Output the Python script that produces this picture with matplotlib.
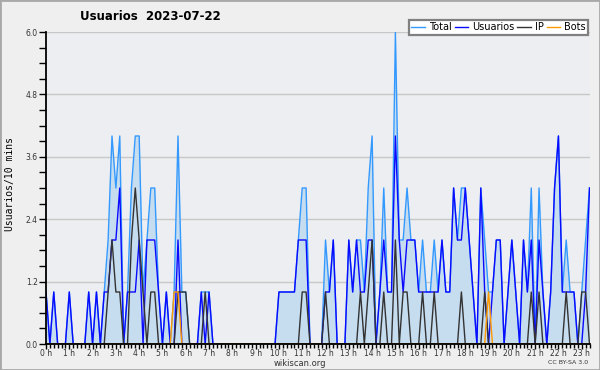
#!/usr/bin/env python3

#This script plots wikiscan users per 10 minutes for one day

#Import necessary libraries
import numpy as np
import matplotlib
matplotlib.use("Agg")
import matplotlib.pyplot as plt
from matplotlib.ticker import MultipleLocator, FixedLocator
from matplotlib.lines import Line2D
from matplotlib.patches import Rectangle

###########################
########## DATA ###########
###########################

#Day shown in the title
day = "2023-07-22"

#One value per 10 minute slot (one row per hour)
total = [
    1, 0, 1, 0, 0, 0,
    1, 0, 0, 0, 0, 1,
    0, 1, 0, 1, 2, 4,
    3, 4, 0, 1, 3, 4,
    4, 1, 2, 3, 3, 1,
    0, 1, 0, 1, 4, 1,
    1, 0, 0, 0, 1, 1,
    1, 0, 0, 0, 0, 0,
    0, 0, 0, 0, 0, 0,
    0, 0, 0, 0, 0, 0,
    1, 1, 1, 1, 1, 2,
    3, 3, 0, 0, 0, 0,
    2, 1, 2, 0, 0, 0,
    2, 1, 2, 2, 1, 3,
    4, 0, 1, 3, 1, 1,
    6, 2, 2, 3, 2, 2,
    1, 2, 1, 1, 2, 1,
    2, 1, 1, 3, 2, 3,
    3, 2, 1, 0, 3, 2,
    1, 1, 2, 2, 0, 1,
    2, 1, 0, 2, 1, 3,
    0, 3, 1, 0, 1, 3,
    4, 1, 2, 1, 1, 0,
    1, 2, 3,
]

usuarios = [
    1, 0, 1, 0, 0, 0,
    1, 0, 0, 0, 0, 1,
    0, 1, 0, 1, 1, 2,
    2, 3, 0, 1, 1, 1,
    2, 0, 2, 2, 2, 1,
    0, 1, 0, 0, 2, 0,
    0, 0, 0, 0, 1, 0,
    1, 0, 0, 0, 0, 0,
    0, 0, 0, 0, 0, 0,
    0, 0, 0, 0, 0, 0,
    1, 1, 1, 1, 1, 2,
    2, 2, 0, 0, 0, 0,
    1, 1, 2, 0, 0, 0,
    2, 1, 2, 1, 1, 2,
    2, 0, 1, 2, 1, 1,
    4, 2, 1, 2, 2, 2,
    1, 1, 1, 1, 1, 1,
    2, 1, 1, 3, 2, 2,
    3, 2, 1, 0, 3, 1,
    0, 1, 2, 2, 0, 1,
    2, 1, 0, 2, 1, 2,
    0, 2, 1, 0, 1, 3,
    4, 1, 1, 1, 1, 0,
    0, 1, 3,
]

ip = [
    0, 0, 0, 0, 0, 0,
    0, 0, 0, 0, 0, 0,
    0, 0, 0, 0, 1, 2,
    1, 1, 0, 0, 2, 3,
    2, 1, 0, 1, 1, 0,
    0, 0, 0, 0, 1, 1,
    1, 0, 0, 0, 0, 1,
    0, 0, 0, 0, 0, 0,
    0, 0, 0, 0, 0, 0,
    0, 0, 0, 0, 0, 0,
    0, 0, 0, 0, 0, 0,
    1, 1, 0, 0, 0, 0,
    1, 0, 0, 0, 0, 0,
    0, 0, 0, 1, 0, 1,
    2, 0, 0, 1, 0, 0,
    2, 0, 1, 1, 0, 0,
    0, 1, 0, 0, 1, 0,
    0, 0, 0, 0, 0, 1,
    0, 0, 0, 0, 0, 1,
    0, 0, 0, 0, 0, 0,
    0, 0, 0, 0, 0, 1,
    0, 1, 0, 0, 0, 0,
    0, 0, 1, 0, 0, 0,
    1, 1, 0,
]

bots = [
    0, 0, 0, 0, 0, 0,
    0, 0, 0, 0, 0, 0,
    0, 0, 0, 0, 0, 0,
    0, 0, 0, 0, 0, 0,
    0, 0, 0, 0, 0, 0,
    0, 0, 0, 1, 1, 0,
    0, 0, 0, 0, 0, 0,
    0, 0, 0, 0, 0, 0,
    0, 0, 0, 0, 0, 0,
    0, 0, 0, 0, 0, 0,
    0, 0, 0, 0, 0, 0,
    0, 0, 0, 0, 0, 0,
    0, 0, 0, 0, 0, 0,
    0, 0, 0, 0, 0, 0,
    0, 0, 0, 0, 0, 0,
    0, 0, 0, 0, 0, 0,
    0, 0, 0, 0, 0, 0,
    0, 0, 0, 0, 0, 0,
    0, 0, 0, 0, 0, 0,
    1, 0, 0, 0, 0, 0,
    0, 0, 0, 0, 0, 0,
    0, 0, 0, 0, 0, 0,
    0, 0, 0, 0, 0, 0,
    0, 0, 0,
]

#Axis labels
hours = list(range(24))
hour_labels = [f"{h} h" for h in hours]
y_ticks = [0.0, 1.2, 2.4, 3.6, 4.8, 6.0]

###########################
########## STYLE ##########
###########################

c_total = "#3399ff"
c_fill = "#c6dcef"
c_users = "#0a0aff"
c_ip = "#333333"
c_bots = "#ff9900"

###########################
########### PLOT ##########
###########################

#Slot index (10 minutes each)
slots = np.arange(len(total))

fig = plt.figure(figsize=(6, 3.7), dpi=100, facecolor="#efefef")
ax = fig.add_axes([46 / 600, 26 / 370, 543.5 / 600, 312 / 370])
ax.set_facecolor("#eceef1")

#Area under total, then the four series
ax.fill_between(slots, total, color=c_fill, lw=0, zorder=1)
ax.plot(slots, total, color=c_total, lw=1.0, zorder=2)
ax.plot(slots, usuarios, color=c_users, lw=1.0, zorder=2)
ax.plot(slots, ip, color=c_ip, lw=1.0, zorder=2)
ax.plot(slots, bots, color=c_bots, lw=1.0, zorder=2)

#Limits and grid
ax.set_xlim(0, len(total) - 1)
ax.set_ylim(0, 6)
ax.yaxis.grid(True, color="#c8c8c8", lw=1)
ax.set_axisbelow(True)

#Y axis ticks
ax.set_yticks(y_ticks)
ax.set_yticklabels([f"{v:.1f}" for v in y_ticks])
ax.yaxis.set_minor_locator(MultipleLocator(0.3))
ax.tick_params(axis="y", which="both", direction="out", length=5, width=1,
               labelsize=5.5, labelcolor="#333333", pad=1)

#X axis ticks: hours and 10 minute slots
ax.xaxis.set_major_locator(FixedLocator([h * 6 for h in hours]))
ax.set_xticklabels(hour_labels)
ax.xaxis.set_minor_locator(MultipleLocator(1))
ax.tick_params(axis="x", which="major", direction="out", length=3.5, width=1,
               labelsize=5.5, labelcolor="#333333", pad=0)
ax.tick_params(axis="x", which="minor", direction="out", length=3, width=1)

#Spines
for side in ["top", "right"]:
    ax.spines[side].set_visible(False)
for side in ["left", "bottom"]:
    ax.spines[side].set_linewidth(1.3)
    ax.spines[side].set_color("black")

#Texts
fig.text(150 / 600, 1 - 16 / 370, f"Usuarios  {day}", ha="center", va="center",
         fontsize=8.5, fontweight="bold")
fig.text(10 / 600, 1 - 184 / 370, "Usuarios/10 mins", rotation=90,
         ha="center", va="center", fontsize=7, family="DejaVu Sans Mono")
fig.text(300 / 600, 1 - 363 / 370, "wikiscan.org", ha="center", va="center",
         fontsize=6, color="#333333")
fig.text(588 / 600, 1 - 363 / 370, "CC BY-SA 3.0", ha="right", va="center",
         fontsize=4.5, color="#333333")

#Legend
handles = [
    Line2D([], [], color=c_total, lw=1),
    Line2D([], [], color=c_users, lw=1),
    Line2D([], [], color=c_ip, lw=1),
    Line2D([], [], color=c_bots, lw=1),
]
leg = fig.legend(handles, ["Total", "Usuarios", "IP", "Bots"], ncol=4,
                 loc="upper right", bbox_to_anchor=(593 / 600, 1 - 15 / 370),
                 fontsize=7, handlelength=1.4, handletextpad=0.4,
                 columnspacing=0.3, borderpad=0.25, fancybox=False,
                 framealpha=1, edgecolor="#808080")
leg.get_frame().set_linewidth(1.6)

#Figure border
fig.patches.append(Rectangle((0, 0), 1, 1, transform=fig.transFigure,
                             fill=False, edgecolor="#a8a8a8", lw=2))

#Save plot
fig.savefig("out.png", dpi=100, facecolor=fig.get_facecolor())
plt.close(fig)
